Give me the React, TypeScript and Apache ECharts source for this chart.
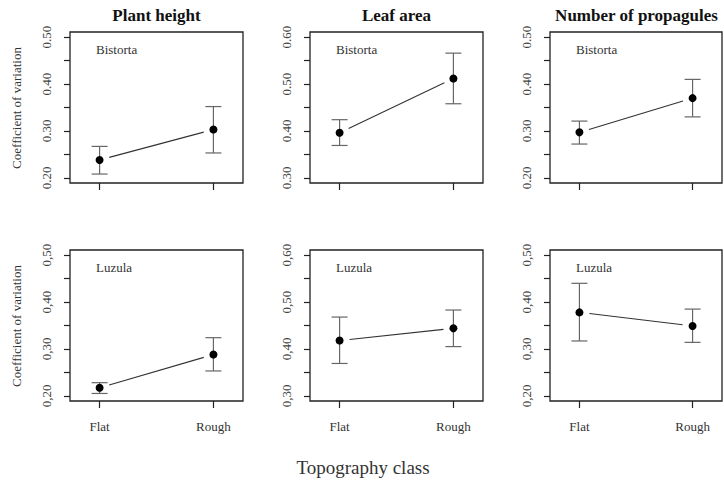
import React, { useEffect, useRef } from "react";
import * as echarts from "echarts";

const categories = ["Flat", "Rough"];
const traits = ["Plant height", "Leaf area", "Number of propagules"];
const species = ["Bistorta", "Luzula"];

// [trait][Flat, Rough]
const bistortaMean = [[0.238, 0.303], [0.396, 0.512], [0.297, 0.370]];
const bistortaLow = [[0.208, 0.253], [0.369, 0.458], [0.272, 0.330]];
const bistortaHigh = [[0.267, 0.352], [0.424, 0.566], [0.321, 0.410]];

const luzulaMean = [[0.217, 0.288], [0.418, 0.444], [0.378, 0.349]];
const luzulaLow = [[0.205, 0.253], [0.369, 0.405], [0.317, 0.314]];
const luzulaHigh = [[0.228, 0.324], [0.468, 0.483], [0.440, 0.385]];

const yLabelTicks = [
  [0.2, 0.3, 0.4, 0.5],
  [0.3, 0.4, 0.5, 0.6],
  [0.2, 0.3, 0.4, 0.5],
];
const yAllTicks = [
  [0.2, 0.25, 0.3, 0.35, 0.4, 0.45, 0.5],
  [0.3, 0.35, 0.4, 0.45, 0.5, 0.55, 0.6],
  [0.2, 0.25, 0.3, 0.35, 0.4, 0.45, 0.5],
];
const decimalSep = [".", ","]; // per row, as printed

const yAxisTitle = "Coefficient of variation";
const xAxisTitle = "Topography class";

const FONT = "'Liberation Serif', 'DejaVu Serif', serif";
const LEFTS = [70, 310, 550];
const TOPS = [32, 250];
const W = 173;
const H = 151;

export default function App() {
  const ref = useRef<HTMLDivElement>(null);

  useEffect(() => {
    if (!ref.current) return;
    const chart = echarts.init(ref.current, null, { renderer: "svg" });

    const grids: any[] = [];
    const xAxes: any[] = [];
    const yAxes: any[] = [];
    const series: any[] = [];

    const rows = [
      { mean: bistortaMean, low: bistortaLow, high: bistortaHigh },
      { mean: luzulaMean, low: luzulaLow, high: luzulaHigh },
    ];

    let idx = 0;
    for (let r = 0; r < 2; r++) {
      for (let c = 0; c < 3; c++) {
        const labels = yLabelTicks[c];
        const lo = labels[0];
        const hi = labels[labels.length - 1];
        const pad = (hi - lo) * 0.037;
        grids.push({
          left: LEFTS[c],
          top: TOPS[r],
          width: c === 2 ? W - 1 : W,
          height: H,
          show: true,
          borderColor: "#222",
          borderWidth: 1.3,
          backgroundColor: "#fff",
        });
        xAxes.push({
          gridIndex: idx,
          type: "value",
          min: 0.74,
          max: 2.26,
          axisLine: { show: false },
          splitLine: { show: false },
          axisTick: {
            show: true,
            customValues: [1, 2],
            length: 7,
            lineStyle: { color: "#222", width: 1.2 },
          },
          axisLabel: {
            show: r === 1,
            customValues: [1, 2],
            formatter: (v: number) => categories[Math.round(v) - 1],
            fontFamily: FONT,
            fontSize: 13,
            color: "#333",
            margin: 19,
          },
        });
        const sep = decimalSep[r];
        yAxes.push({
          gridIndex: idx,
          type: "value",
          min: lo - pad,
          max: hi + pad,
          axisLine: { show: false },
          splitLine: { show: false },
          axisTick: {
            show: true,
            customValues: yAllTicks[c],
            length: 6,
            lineStyle: { color: "#222", width: 1.2 },
          },
          axisLabel: {
            show: true,
            customValues: labels,
            rotate: 90,
            formatter: (v: number) => v.toFixed(2).replace(".", sep),
            fontFamily: FONT,
            fontSize: 13,
            color: "#444",
            margin: 17,
          },
        });

        const d = rows[r];
        const mean = d.mean[c];
        const low = d.low[c];
        const high = d.high[c];

        series.push({
          type: "custom",
          xAxisIndex: idx,
          yAxisIndex: idx,
          data: [
            [1, low[0], high[0]],
            [2, low[1], high[1]],
          ],
          encode: { x: 0, y: [1, 2] },
          renderItem: (params: any, api: any) => {
            const x = api.value(0);
            const pLo = api.coord([x, api.value(1)]);
            const pHi = api.coord([x, api.value(2)]);
            const cap = 8;
            const st = { stroke: "#666", lineWidth: 1.2 };
            return {
              type: "group",
              children: [
                { type: "line", shape: { x1: pLo[0], y1: pLo[1], x2: pHi[0], y2: pHi[1] }, style: st },
                { type: "line", shape: { x1: pLo[0] - cap, y1: pLo[1], x2: pLo[0] + cap, y2: pLo[1] }, style: st },
                { type: "line", shape: { x1: pHi[0] - cap, y1: pHi[1], x2: pHi[0] + cap, y2: pHi[1] }, style: st },
              ],
            };
          },
          z: 2,
        });

        series.push({
          type: "custom",
          xAxisIndex: idx,
          yAxisIndex: idx,
          data: [[1, mean[0], 2, mean[1]]],
          encode: { x: [0, 2], y: [1, 3] },
          renderItem: (params: any, api: any) => {
            const a = api.coord([api.value(0), api.value(1)]);
            const b = api.coord([api.value(2), api.value(3)]);
            const dx = b[0] - a[0];
            const dy = b[1] - a[1];
            const len = Math.sqrt(dx * dx + dy * dy);
            const g = 10;
            const ux = dx / len;
            const uy = dy / len;
            return {
              type: "line",
              shape: {
                x1: a[0] + ux * g,
                y1: a[1] + uy * g,
                x2: b[0] - ux * g,
                y2: b[1] - uy * g,
              },
              style: { stroke: "#333", lineWidth: 1.1 },
            };
          },
          z: 2,
        });

        series.push({
          type: "scatter",
          xAxisIndex: idx,
          yAxisIndex: idx,
          data: [
            [1, mean[0]],
            [2, mean[1]],
          ],
          symbol: "circle",
          symbolSize: 8,
          itemStyle: { color: "#000", opacity: 1 },
          z: 3,
        });

        idx++;
      }
    }

    const graphic: any[] = [];
    for (let c = 0; c < 3; c++) {
      graphic.push({
        type: "text",
        x: LEFTS[c] + W / 2,
        y: 15,
        style: {
          text: traits[c],
          fontFamily: FONT,
          fontSize: 17,
          fontWeight: "bold",
          fill: "#111",
          align: "center",
          verticalAlign: "middle",
        },
      });
    }
    for (let r = 0; r < 2; r++) {
      for (let c = 0; c < 3; c++) {
        graphic.push({
          type: "text",
          x: LEFTS[c] + 26,
          y: TOPS[r] + 17,
          style: {
            text: species[r],
            fontFamily: FONT,
            fontSize: 13,
            fill: "#333",
            align: "left",
            verticalAlign: "middle",
          },
        });
      }
      graphic.push({
        type: "text",
        x: 16,
        y: TOPS[r] + 76,
        rotation: Math.PI / 2,
        style: {
          text: yAxisTitle,
          fontFamily: FONT,
          fontSize: 13,
          fill: "#333",
          align: "center",
          verticalAlign: "middle",
        },
      });
    }
    graphic.push({
      type: "text",
      x: 363,
      y: 467,
      style: {
        text: xAxisTitle,
        fontFamily: FONT,
        fontSize: 19,
        fill: "#333",
        align: "center",
        verticalAlign: "middle",
      },
    });

    chart.setOption({
      animation: false,
      backgroundColor: "#fff",
      grid: grids,
      xAxis: xAxes,
      yAxis: yAxes,
      series,
      graphic,
    });

    return () => chart.dispose();
  }, []);

  return (
    <div
      ref={ref}
      style={{ position: "fixed", left: 0, top: 0, width: 724, height: 484, background: "#fff" }}
    />
  );
}
